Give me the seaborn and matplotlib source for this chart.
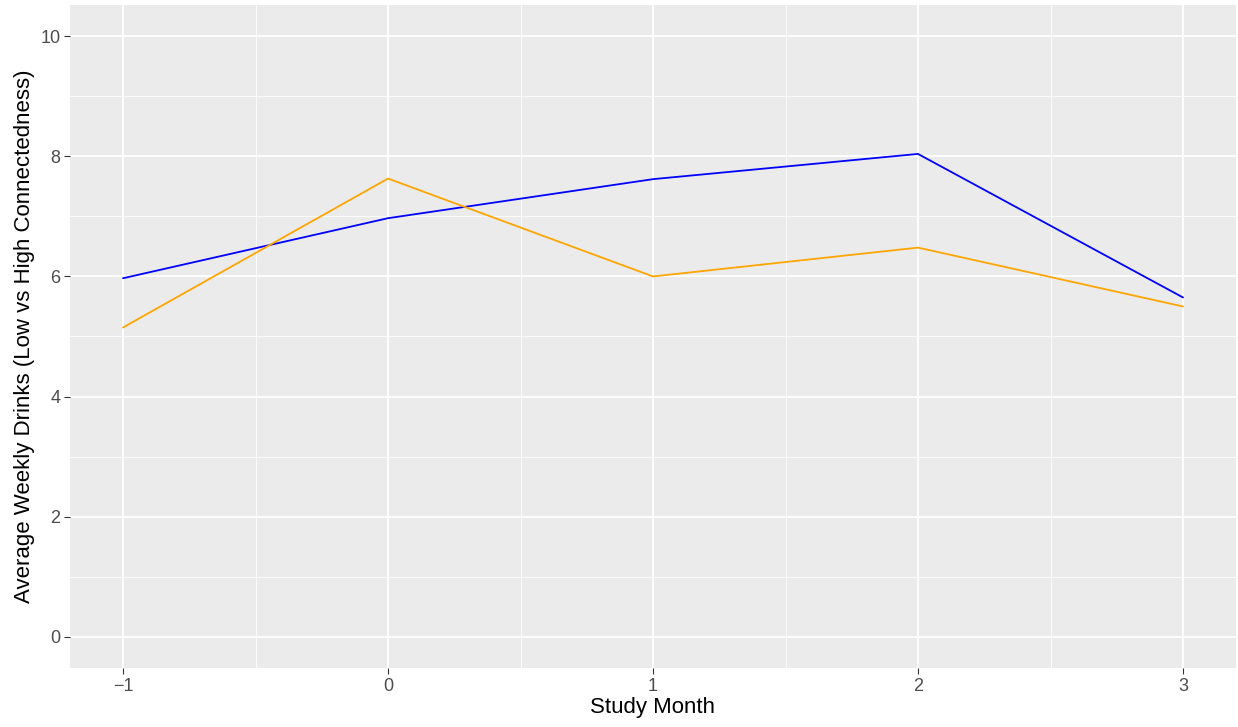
import pandas as pd
import matplotlib.pyplot as plt
import seaborn as sns
from matplotlib.ticker import MultipleLocator

# values
months = [-1, 0, 1, 2, 3]
high_conn = [5.97, 6.97, 7.62, 8.04, 5.65]
low_conn = [5.15, 7.63, 6.00, 6.48, 5.50]
month_labels = ['\u22121', '0', '1', '2', '3']

df = pd.DataFrame({
    'month': months * 2,
    'drinks': high_conn + low_conn,
    'group': ['high'] * len(months) + ['low'] * len(months),
})

sns.set_theme(style='darkgrid')
plt.rcParams['font.family'] = ['Liberation Sans', 'DejaVu Sans']

fig = plt.figure(figsize=(12.38, 7.27), dpi=100)
ax = fig.add_axes([70 / 1238, 59 / 727, 1166 / 1238, 663 / 727])
ax.set_facecolor('#EBEBEB')

sns.lineplot(data=df, x='month', y='drinks', hue='group',
             palette={'high': 'blue', 'low': 'orange'},
             linewidth=1.3, legend=False, ax=ax)

ax.set_xlim(-1.2, 3.2)
ax.set_ylim(-0.52, 10.52)
ax.xaxis.set_minor_locator(MultipleLocator(0.5))
ax.yaxis.set_major_locator(MultipleLocator(2))
ax.yaxis.set_minor_locator(MultipleLocator(1))
ax.set_xticks(months)
ax.set_xticklabels(month_labels)

# ggplot-like grid
ax.grid(which='major', color='white', linewidth=1.3)
ax.grid(which='minor', color='white', linewidth=0.6)
for s in ax.spines.values():
    s.set_visible(False)

ax.tick_params(which='major', bottom=True, left=True, length=4, width=0.8,
               color='#333333', labelsize=13, labelcolor='#4D4D4D', pad=3)
ax.tick_params(which='minor', bottom=False, left=False, length=0)

ax.set_xlabel('Study Month', fontsize=16, color='black', labelpad=2)
ax.set_ylabel('Average Weekly Drinks (Low vs High Connectedness)',
              fontsize=16, color='black', labelpad=4)

fig.savefig('out.png', dpi=100)
